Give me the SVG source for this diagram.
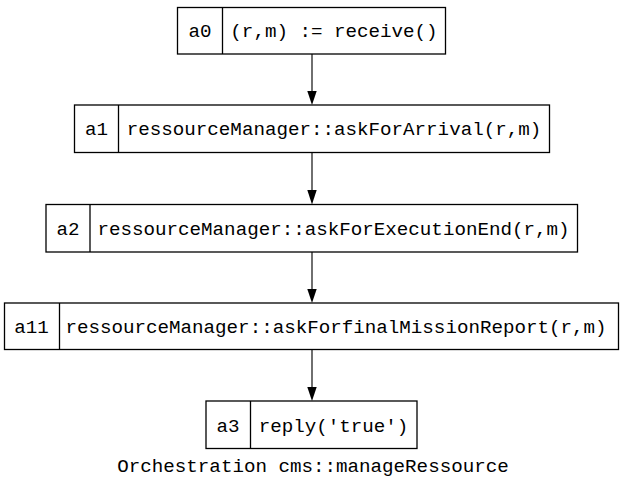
<svg xmlns="http://www.w3.org/2000/svg" width="624" height="487" viewBox="0 0 624 487">
<defs>
<style>
.box{fill:#fff;stroke:#000;stroke-width:1.3}
.t{font-family:"Nimbus Mono PS","Courier","Liberation Mono","Courier New",monospace;font-size:19.2px;fill:#000;text-anchor:middle}
.e{stroke:#333;stroke-width:1.4;fill:none}
.ah{fill:#000}
</style>
</defs>
<rect width="624" height="487" fill="#fff"/>
<g id="connectors">
<path class="e" d="M312,54 V101"/>
<path class="ah" d="M307.3,91 L316.7,91 L312,105 Z"/>
<path class="e" d="M312,152.5 V200"/>
<path class="ah" d="M307.3,190 L316.7,190 L312,204.5 Z"/>
<path class="e" d="M312,252 V299"/>
<path class="ah" d="M307.3,289 L316.7,289 L312,303 Z"/>
<path class="e" d="M312,349.5 V397"/>
<path class="ah" d="M307.3,387 L316.7,387 L312,401 Z"/>
</g>
<g id="a0">
<rect class="box" x="177.5" y="7.5" width="268" height="46.5"/>
<line class="box" x1="222.5" y1="7.5" x2="222.5" y2="54"/>
<text class="t" x="200" y="37">a0</text>
<text class="t" x="334" y="37">(r,m) := receive()</text>
</g>
<g id="a1">
<rect class="box" x="74.5" y="105" width="475" height="47.5"/>
<line class="box" x1="118.5" y1="105" x2="118.5" y2="152.5"/>
<text class="t" x="96.5" y="135">a1</text>
<text class="t" x="334" y="135">ressourceManager::askForArrival(r,m)</text>
</g>
<g id="a2">
<rect class="box" x="46" y="204.5" width="531.5" height="47.5"/>
<line class="box" x1="90" y1="204.5" x2="90" y2="252"/>
<text class="t" x="68" y="234.5">a2</text>
<text class="t" x="333.5" y="234.5">ressourceManager::askForExecutionEnd(r,m)</text>
</g>
<g id="a11">
<rect class="box" x="4.5" y="303" width="614" height="46.5"/>
<line class="box" x1="59.5" y1="303" x2="59.5" y2="349.5"/>
<text class="t" x="31.5" y="332.5">a11</text>
<text class="t" x="336" y="332.5">ressourceManager::askForfinalMissionReport(r,m)</text>
</g>
<g id="a3">
<rect class="box" x="206" y="401" width="211" height="47.5"/>
<line class="box" x1="250.5" y1="401" x2="250.5" y2="448.5"/>
<text class="t" x="228" y="432">a3</text>
<text class="t" x="333.5" y="432">reply('true')</text>
</g>
<text class="t" x="313" y="472">Orchestration cms::manageRessource</text>
</svg>
